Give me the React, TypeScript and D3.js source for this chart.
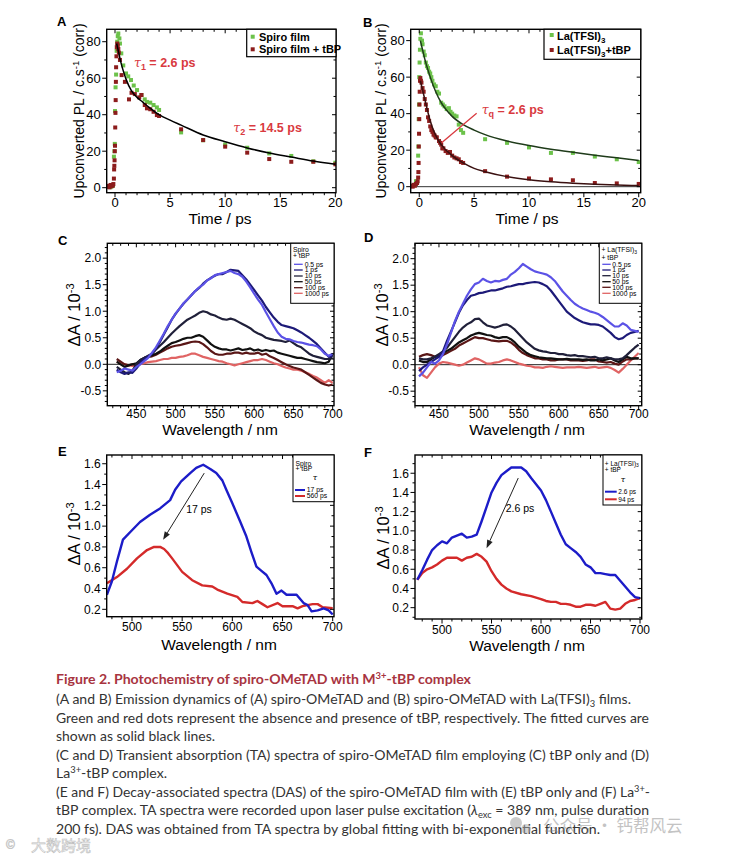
import React from "react";
import * as d3 from "d3";

type P = [number, number];
const FONT = "'Liberation Sans', Arial, Helvetica, sans-serif";
const CAP = "Lato, 'Open Sans', sans-serif";

// ---------- Panel A (time, PL) ----------
const aGreen: P[] = [[-0.6,0.5],[-0.4,0.3],[-0.2,1],[-0.1,17],[-0.05,20],[-0.02,24],[0,42],[0.05,55],[0.1,62],[0.15,75],[0.2,80],[0.25,83],[0.3,84.5],
[0.4,81.8],[0.45,79],[0.57,73.6],[0.75,67],[1.0,62.6],[1.2,61],[1.45,59],[1.7,56],[2.0,53.5],[2.4,50.8],[2.7,48.4],[2.9,47],[3.2,46.6],[3.5,45.3],[3.8,44],[4.0,42.6],
[6,30.3],[8,26],[10,23.7],[12,21.9],[14,18.8],[16,17.4],[18,14.5],[20,13.7]];
const aRed: P[] = [[-0.7,0.5],[-0.6,1],[-0.5,0.2],[-0.4,1.5],[-0.3,0.8],[-0.2,1.2],[-0.15,2],[-0.1,5],[-0.08,10],[-0.06,12],[-0.04,15],[-0.02,20],[0,23],[0.02,33],[0.04,41],[0.06,48],[0.08,58],[0.1,66],[0.13,72],[0.16,77],[0.2,79],
[0.25,78],[0.3,76],[0.35,74],[0.45,70],[0.6,61.7],[0.9,58],[1.27,48.4],[1.5,52],[1.8,51.3],[2.2,49.5],[2.4,50.8],[2.7,45.3],[2.9,43.5],[3.2,43],[3.5,41.6],[3.8,39.8],[4.0,39.3],
[6,32],[8,26.1],[10,22.5],[12,19.2],[14,15.7],[16,14.2],[18,14.2],[20,12.8]];
const aFit: P[] = [[0.15,79],[0.3,75],[0.5,69.5],[0.75,64],[1.0,59.5],[1.5,53],[2,49.5],[2.5,47],[3,44.5],[4,40],[5,37],[6,34.3],[8,28.9],[10,25.2],[12,21.8],[14,19],[16,16.8],[18,14.6],[20,12.8]];

// ---------- Panel B ----------
const bGreen: P[] = [[-0.6,0.5],[-0.4,1],[-0.3,3],[-0.2,2.5],[-0.1,17],[-0.08,22],[-0.05,37],[-0.02,45],[0,60],[0.03,68],[0.06,75],[0.1,81],[0.15,84],
[0.25,80],[0.3,78],[0.4,74],[0.5,72],[0.6,68],[0.7,66],[0.8,65],[0.9,63],[1.0,62],[1.1,60],[1.2,58],[1.35,56],[1.5,55],[1.65,52],[1.8,51],[2.0,46],[2.15,45],[2.3,44],[2.5,42.5],[2.7,43],[2.85,41],[3.0,40],[3.2,39],[3.4,38.5],[3.6,34],[3.8,31],[4.0,29.5],
[6,26],[8,24],[10,21.5],[12,18.5],[14,18.5],[16,16.5],[18,15],[20,13.5]];
const bRed: P[] = [[-0.7,0.5],[-0.6,0],[-0.5,1],[-0.4,0.5],[-0.3,1.5],[-0.2,2],[-0.15,3],[-0.1,5],[-0.08,8],[-0.06,13],[-0.04,22],[-0.02,29],[0,37],[0.02,45],[0.04,52],[0.07,58],[0.1,59.5],
[0.15,58],[0.2,57],[0.3,54],[0.4,52],[0.5,48],[0.6,45],[0.7,42],[0.8,38],[0.9,36],[1.0,33],[1.1,31],[1.2,30],[1.3,28.5],[1.4,28],[1.5,27],[1.6,27],[1.8,25],[1.9,24],[2.0,23],[2.1,21],[2.2,21],[2.4,19.5],[2.6,18.5],[2.8,19],[3.0,17],[3.2,16],[3.4,15.5],[3.6,15],[3.8,13.5],[4.0,13],
[6,8.5],[8,5.5],[10,4.5],[12,4],[14,3.5],[16,2],[18,1.8],[20,1.5]];
const bGreenFit: P[] = [[0.1,80],[0.3,75],[0.5,70],[1,60],[1.5,52],[2,46],[3,38.5],[4,34],[5,31],[6,28.5],[8,25],[10,22.5],[12,20.5],[14,18.8],[16,17.2],[18,15.8],[20,14.3]];
const bRedFit: P[] = [[0.1,58],[0.3,53],[0.5,48],[1,36],[1.5,28],[2,23],[3,17],[4,13],[5,10],[6,8.2],[8,5.5],[10,3.8],[12,2.7],[14,1.9],[16,1.3],[18,0.9],[20,0.6]];

// ---------- Panel C (TA spectra, tBP only) ----------
const wl = [425,430,435,440,445,450,455,460,465,470,475,480,485,490,495,500,505,510,515,520,525,530,535,540,545,550,555,560,565,570,575,580,585,590,595,600,605,610,615,620,625,630,635,640,645,650,655,660,665,670,675,680,685,690,695,700];
const c05 = [-0.15,-0.12,-0.08,-0.1,-0.12,-0.05,0,0.06,0.12,0.22,0.32,0.45,0.58,0.72,0.84,0.96,1.05,1.15,1.22,1.3,1.38,1.45,1.5,1.58,1.62,1.68,1.7,1.72,1.74,1.76,1.72,1.7,1.65,1.56,1.45,1.33,1.22,1.12,0.98,0.85,0.72,0.6,0.52,0.48,0.47,0.44,0.42,0.41,0.39,0.37,0.36,0.34,0.28,0.2,0.16,0.2];
const c1 = [-0.1,-0.15,-0.18,-0.15,-0.16,-0.08,0.02,0.1,0.15,0.2,0.3,0.42,0.56,0.7,0.84,0.95,1.05,1.14,1.22,1.3,1.38,1.44,1.52,1.58,1.63,1.67,1.7,1.7,1.74,1.78,1.77,1.76,1.68,1.6,1.5,1.4,1.3,1.2,1.08,0.98,0.88,0.8,0.74,0.72,0.7,0.68,0.64,0.6,0.55,0.5,0.44,0.38,0.3,0.22,0.14,0.16];
const c10 = [-0.05,-0.1,-0.15,-0.18,-0.12,0,0.08,0.12,0.16,0.2,0.28,0.35,0.42,0.5,0.58,0.65,0.72,0.78,0.84,0.88,0.92,0.97,1.0,0.98,0.94,0.92,0.88,0.85,0.84,0.86,0.84,0.8,0.76,0.72,0.68,0.62,0.58,0.55,0.5,0.48,0.46,0.45,0.44,0.42,0.45,0.4,0.35,0.32,0.26,0.2,0.16,0.14,0.12,0.1,0.1,0.12];
const c50 = [0.05,0,-0.05,-0.02,0,0.02,0.08,0.12,0.15,0.17,0.2,0.24,0.3,0.35,0.4,0.42,0.45,0.48,0.5,0.5,0.53,0.55,0.52,0.45,0.38,0.33,0.3,0.28,0.28,0.26,0.28,0.3,0.27,0.28,0.3,0.26,0.28,0.25,0.27,0.25,0.26,0.22,0.2,0.18,0.16,0.14,0.12,0.12,0.1,0.08,0.06,0.04,0.03,0.02,0.05,0.2];
const c100 = [0.1,0.05,0,-0.02,0,-0.02,0.05,0.12,0.14,0.15,0.18,0.22,0.26,0.3,0.33,0.35,0.36,0.38,0.4,0.42,0.43,0.42,0.38,0.32,0.25,0.2,0.18,0.18,0.2,0.2,0.22,0.22,0.2,0.22,0.2,0.2,0.22,0.18,0.2,0.15,0.12,0.08,0.04,0,-0.03,-0.06,-0.08,-0.1,-0.15,-0.2,-0.25,-0.3,-0.35,-0.38,-0.4,-0.38];
const c1000 = [0.05,0.02,0,-0.02,-0.03,-0.02,0,0.02,0.04,0.05,0.06,0.08,0.1,0.1,0.12,0.12,0.14,0.15,0.17,0.2,0.2,0.17,0.14,0.12,0.1,0.08,0.06,0.05,0.02,0,-0.02,0,0.02,0.04,0.06,0.08,0.08,0.1,0.08,0.05,0.02,0,-0.03,-0.06,-0.08,-0.1,-0.1,-0.12,-0.15,-0.18,-0.22,-0.25,-0.3,-0.35,-0.3,-0.35];

// ---------- Panel D (TA spectra, La3+-tBP) ----------
const d05 = [-0.22,-0.15,-0.05,0.05,0.02,0.08,0.2,0.38,0.6,0.82,1.0,1.15,1.3,1.42,1.52,1.55,1.62,1.58,1.55,1.58,1.57,1.6,1.62,1.7,1.75,1.82,1.9,1.85,1.8,1.76,1.74,1.72,1.7,1.65,1.58,1.48,1.38,1.3,1.22,1.15,1.1,1.06,1.03,1.0,0.98,0.95,0.9,0.84,0.78,0.72,0.72,0.78,0.74,0.66,0.64,0.62];
const d1 = [-0.12,-0.05,0,0.05,0.1,0.15,0.25,0.45,0.62,0.8,0.98,1.12,1.22,1.3,1.32,1.35,1.36,1.38,1.4,1.4,1.42,1.44,1.47,1.48,1.5,1.52,1.52,1.54,1.55,1.56,1.55,1.52,1.48,1.4,1.3,1.2,1.1,1.0,0.94,0.88,0.84,0.8,0.78,0.76,0.76,0.75,0.72,0.66,0.6,0.52,0.48,0.5,0.56,0.6,0.62,0.64];
const d10 = [0.12,0.1,0.1,0.12,0.15,0.2,0.25,0.32,0.42,0.52,0.62,0.7,0.76,0.8,0.86,0.87,0.8,0.74,0.72,0.7,0.72,0.75,0.76,0.72,0.66,0.58,0.5,0.42,0.36,0.3,0.27,0.25,0.24,0.22,0.22,0.2,0.2,0.18,0.17,0.18,0.16,0.16,0.15,0.14,0.15,0.12,0.12,0.14,0.12,0.1,0.1,0.12,0.18,0.25,0.32,0.38];
const d50 = [0.08,0.05,0.05,0.1,0.15,0.18,0.22,0.26,0.3,0.36,0.42,0.46,0.5,0.55,0.58,0.6,0.58,0.56,0.55,0.52,0.5,0.52,0.52,0.48,0.42,0.34,0.28,0.22,0.18,0.16,0.14,0.13,0.12,0.12,0.11,0.1,0.1,0.11,0.1,0.1,0.1,0.09,0.1,0.08,0.08,0.1,0.08,0.1,0.12,0.08,0.05,0.1,0.15,0.12,0.12,0.12];
const d100 = [0.15,0.18,0.2,0.18,0.15,0.15,0.18,0.22,0.26,0.3,0.36,0.4,0.44,0.48,0.52,0.5,0.5,0.48,0.46,0.45,0.44,0.45,0.45,0.42,0.36,0.28,0.22,0.18,0.15,0.12,0.12,0.1,0.1,0.08,0.08,0.1,0.1,0.1,0.08,0.08,0.08,0.07,0.08,0.1,0.1,0.06,0.05,0.04,0.05,0.02,0,0.06,0.1,0.1,0.12,0.12];
const d1000 = [-0.05,-0.2,-0.25,-0.15,-0.05,0.02,0.05,0.04,0.02,0,-0.02,0,0.04,0.08,0.12,0.1,0.06,0.02,0.02,0.04,0.05,0.08,0.1,0.08,0.05,0.02,0,-0.02,-0.03,-0.05,-0.05,-0.06,-0.04,-0.03,-0.04,-0.05,-0.06,-0.05,-0.05,-0.05,-0.04,-0.05,-0.06,-0.05,-0.04,-0.06,-0.05,-0.04,-0.06,-0.1,-0.15,-0.08,0,0.08,0.15,0.22];

// ---------- Panel E (DAS, tBP only) ----------
const eBlue: P[] = [[475,0.34],[480,0.47],[485,0.66],[491,0.87],[500,0.96],[508,1.04],[518,1.11],[528,1.17],[538,1.25],[543,1.35],[549,1.43],[558,1.51],[564,1.56],[571,1.59],[578,1.55],[584,1.51],[590,1.44],[594,1.35],[600,1.22],[608,1.04],[614,0.9],[619,0.75],[624,0.61],[629,0.57],[634,0.53],[639,0.45],[644,0.35],[649,0.38],[654,0.34],[659,0.34],[664,0.34],[671,0.26],[675,0.24],[679,0.18],[685,0.19],[691,0.21],[696,0.19],[700,0.15]];
const eRed: P[] = [[475,0.45],[485,0.51],[495,0.59],[505,0.69],[515,0.77],[522,0.8],[528,0.8],[532,0.78],[536,0.74],[540,0.69],[550,0.56],[560,0.48],[570,0.43],[580,0.42],[585,0.39],[595,0.35],[605,0.32],[610,0.27],[620,0.26],[625,0.28],[630,0.25],[635,0.22],[645,0.26],[650,0.23],[660,0.23],[665,0.21],[670,0.23],[680,0.25],[685,0.25],[690,0.22],[700,0.21]];

// ---------- Panel F (DAS, La3+-tBP) ----------
const fBlue: P[] = [[475,0.49],[480,0.59],[485,0.7],[490,0.8],[495,0.85],[500,0.89],[505,0.87],[510,0.93],[515,0.95],[520,0.97],[525,0.93],[530,0.94],[535,0.96],[540,1.1],[545,1.25],[550,1.4],[555,1.5],[560,1.58],[565,1.62],[570,1.66],[575,1.66],[580,1.66],[585,1.62],[590,1.55],[600,1.42],[605,1.32],[610,1.2],[615,1.08],[620,0.96],[625,0.86],[630,0.82],[635,0.78],[640,0.73],[645,0.65],[650,0.62],[655,0.56],[660,0.56],[665,0.55],[670,0.54],[675,0.54],[680,0.48],[685,0.42],[690,0.36],[695,0.31],[700,0.3]];
const fRed: P[] = [[475,0.49],[480,0.56],[485,0.6],[490,0.62],[495,0.65],[500,0.69],[505,0.72],[510,0.72],[515,0.72],[520,0.69],[525,0.72],[530,0.73],[535,0.76],[540,0.73],[545,0.68],[550,0.58],[555,0.5],[560,0.44],[565,0.4],[570,0.37],[580,0.34],[590,0.32],[600,0.29],[605,0.27],[610,0.26],[615,0.26],[620,0.24],[625,0.24],[630,0.23],[635,0.21],[640,0.21],[645,0.23],[650,0.23],[655,0.22],[660,0.24],[665,0.26],[670,0.19],[675,0.18],[680,0.19],[685,0.24],[690,0.27],[695,0.28],[700,0.3]];

const cLabels = ["0.5 ps","1 ps","10 ps","50 ps","100 ps","1000 ps"];
const taColors = ["#5b52e6","#1d1a78","#20203a","#101010","#5a1616","#e06464"];

const pair = (ys: number[]): P[] => ys.map((v, i) => [wl[i], v]);

function range(a: number, b: number, s: number) {
  const o: number[] = [];
  for (let k = 0; a + k * s <= b + 1e-9; k++) o.push(+(a + k * s).toFixed(6));
  return o;
}

function Axes(p: {
  xs: d3.ScaleLinear<number, number>; ys: d3.ScaleLinear<number, number>;
  xMajor: number[]; xMinor: number[]; yMajor: number[]; yMinor: number[];
  xFmt: (v: number) => string; yFmt: (v: number) => string; fs: number; xLabBase: number;
}) {
  const [l, r] = p.xs.range();
  const [b, t] = p.ys.range();
  const near = (arr: number[], v: number) => arr.some((m) => Math.abs(m - v) < 1e-6);
  const els: React.ReactNode[] = [];
  const st = { stroke: "#000", strokeWidth: 1 };
  p.xMinor.filter((v) => !near(p.xMajor, v)).forEach((v, i) => {
    const x = p.xs(v);
    els.push(<line key={"xm" + i} x1={x} x2={x} y1={b} y2={b + 2.5} {...st} />);
    els.push(<line key={"xmt" + i} x1={x} x2={x} y1={t} y2={t + 2.5} {...st} />);
  });
  p.xMajor.forEach((v, i) => {
    const x = p.xs(v);
    els.push(<line key={"xM" + i} x1={x} x2={x} y1={b} y2={b + 4.5} {...st} />);
    els.push(<line key={"xMt" + i} x1={x} x2={x} y1={t} y2={t + 4} {...st} />);
    els.push(<text key={"xl" + i} x={x} y={p.xLabBase} textAnchor="middle" fontSize={p.fs} fontFamily={FONT}>{p.xFmt(v)}</text>);
  });
  p.yMinor.filter((v) => !near(p.yMajor, v)).forEach((v, i) => {
    const y = p.ys(v);
    els.push(<line key={"ym" + i} x1={l - 2.5} x2={l} y1={y} y2={y} {...st} />);
    els.push(<line key={"ymr" + i} x1={r - 2.5} x2={r} y1={y} y2={y} {...st} />);
  });
  p.yMajor.forEach((v, i) => {
    const y = p.ys(v);
    els.push(<line key={"yM" + i} x1={l - 4.5} x2={l} y1={y} y2={y} {...st} />);
    els.push(<line key={"yMr" + i} x1={r - 4} x2={r} y1={y} y2={y} {...st} />);
    els.push(<text key={"yl" + i} x={l - 6} y={y + p.fs * 0.36} textAnchor="end" fontSize={p.fs} fontFamily={FONT}>{p.yFmt(v)}</text>);
  });
  els.push(<rect key="frame" x={l} y={t} width={r - l} height={b - t} fill="none" stroke="#000" strokeWidth={1.4} />);
  return <g>{els}</g>;
}

const f1 = (v: number) => v.toFixed(1);
const f0 = (v: number) => String(v);

function YLabel({ x, y, fs, children }: { x: number; y: number; fs: number; children: React.ReactNode }) {
  return (
    <text transform={`translate(${x},${y}) rotate(-90)`} textAnchor="middle" fontSize={fs} fontFamily={FONT}>{children}</text>
  );
}

function Arrow({ x1, y1, x2, y2 }: { x1: number; y1: number; x2: number; y2: number }) {
  const a = Math.atan2(y2 - y1, x2 - x1);
  const L = 8, Wd = 3;
  const bx = x2 - L * Math.cos(a), by = y2 - L * Math.sin(a);
  const px = -Math.sin(a) * Wd, py = Math.cos(a) * Wd;
  return (
    <g>
      <line x1={x1} y1={y1} x2={bx} y2={by} stroke="#222" strokeWidth={1} />
      <polygon points={`${x2},${y2} ${bx + px},${by + py} ${bx - px},${by - py}`} fill="#222" />
    </g>
  );
}

export default function App() {
  const axS = d3.scaleLinear().domain([-0.754, 20.06]).range([106.7, 336]);
  const ayS = d3.scaleLinear().domain([-2.74, 86.8]).range([192.7, 29.3]);
  const bxS = d3.scaleLinear().domain([-0.78, 20.18]).range([410.7, 640.7]);
  const byS = d3.scaleLinear().domain([-3.3, 86.2]).range([192.7, 29.3]);
  const cxS = d3.scaleLinear().domain([413, 701.7]).range([107.3, 334]);
  const cyS = d3.scaleLinear().domain([-0.78, 2.28]).range([405.7, 243.3]);
  const dxS = d3.scaleLinear().domain([420, 703.8]).range([415, 641.7]);
  const dyS = d3.scaleLinear().domain([-0.774, 2.29]).range([405.7, 243.3]);
  const exS = d3.scaleLinear().domain([474.8, 701.3]).range([106.7, 334]);
  const eyS = d3.scaleLinear().domain([0.129, 1.684]).range([616.7, 455]);
  const fxS = d3.scaleLinear().domain([472.7, 701.7]).range([415, 641.7]);
  const fyS = d3.scaleLinear().domain([0.082, 1.79]).range([619, 455]);

  const lineOf = (xs: any, ys: any, curve = d3.curveLinear) =>
    d3.line<P>().x((d) => xs(d[0])).y((d) => ys(d[1])).curve(curve);

  const squares = (data: P[], xs: any, ys: any, color: string, key: string) =>
    data.map((d, i) => (
      <rect key={key + i} x={xs(d[0]) - 2} y={ys(d[1]) - 2} width={4} height={4} fill={color} />
    ));

  const green = "#6cc24a";
  const dred = "#8c1c1c";
  const red = "#d93a3f";

  const cSeries = [c05, c1, c10, c50, c100, c1000];
  const dSeries = [d05, d1, d10, d50, d100, d1000];

  return (
    <svg width={731} height={855} style={{ position: "absolute", left: 0, top: 0, background: "#fff" }} xmlns="http://www.w3.org/2000/svg">
      <rect x={0} y={0} width={731} height={855} fill="#fff" />
      <defs>
        <clipPath id="clA"><rect x={106.7} y={29.3} width={229.3} height={163.4} /></clipPath>
        <clipPath id="clB"><rect x={410.7} y={29.3} width={230} height={163.4} /></clipPath>
        <clipPath id="clC"><rect x={107.3} y={243.3} width={226.7} height={162.4} /></clipPath>
        <clipPath id="clD"><rect x={415} y={243.3} width={226.7} height={162.4} /></clipPath>
        <clipPath id="clE"><rect x={106.7} y={455} width={227.3} height={161.7} /></clipPath>
        <clipPath id="clF"><rect x={415} y={455} width={226.7} height={164} /></clipPath>
      </defs>

      <g fontFamily={FONT} fontWeight="bold" fontSize={13}>
        <text x={57} y={26}>A</text>
        <text x={363} y={26.5}>B</text>
        <text x={58} y={245}>C</text>
        <text x={364} y={242}>D</text>
        <text x={58} y={456}>E</text>
        <text x={364} y={457}>F</text>
      </g>

      {/* ===== Panel A ===== */}
      <g clipPath="url(#clA)">
        {squares(aGreen, axS, ayS, green, "ag")}
        {squares(aRed, axS, ayS, dred, "ar")}
        <path d={lineOf(axS, ayS, d3.curveMonotoneX)(aFit) || ""} fill="none" stroke="#000" strokeWidth={1.5} />
      </g>
      <Axes xs={axS} ys={ayS} xMajor={[0, 5, 10, 15, 20]} xMinor={range(0, 20, 1)} yMajor={[0, 20, 40, 60, 80]} yMinor={[10, 30, 50, 70]} xFmt={f0} yFmt={f0} fs={13} xLabBase={206.5} />
      <text x={axS(1.72)} y={ayS(66.1)} fill={red} fontFamily={FONT} fontWeight="bold" fontSize={12.5}>
        <tspan fontStyle="italic" fontFamily="'DejaVu Serif', serif" fontWeight="normal">τ</tspan><tspan dy={3} fontSize={9}>1</tspan><tspan dy={-3}> = 2.6 ps</tspan>
      </text>
      <text x={axS(10.74)} y={ayS(30.7)} fill={red} fontFamily={FONT} fontWeight="bold" fontSize={12.5}>
        <tspan fontStyle="italic" fontFamily="'DejaVu Serif', serif" fontWeight="normal">τ</tspan><tspan dy={3} fontSize={9}>2</tspan><tspan dy={-3}> = 14.5 ps</tspan>
      </text>
      <rect x={246.7} y={29.3} width={89.3} height={27.4} fill="#fff" stroke="#000" strokeWidth={1.2} />
      <rect x={250.7} y={34.7} width={4} height={4} fill={green} />
      <text x={259} y={40.8} fontFamily={FONT} fontWeight="bold" fontSize={11}>Spiro film</text>
      <rect x={250.7} y={47.3} width={4} height={4} fill={dred} />
      <text x={259} y={53.3} fontFamily={FONT} fontWeight="bold" fontSize={11}>Spiro film + tBP</text>
      <YLabel x={84} y={111} fs={14}>
        Upconverted PL / c.s<tspan dy={-5} fontSize={9.5}>-1</tspan><tspan dy={5}> (corr)</tspan>
      </YLabel>
      <text x={220} y={224} textAnchor="middle" fontFamily={FONT} fontSize={15.5}>Time / ps</text>

      {/* ===== Panel B ===== */}
      <g clipPath="url(#clB)">
        <line x1={bxS(-0.78)} x2={bxS(20.18)} y1={byS(0)} y2={byS(0)} stroke="#333" strokeWidth={1} />
        {squares(bGreen, bxS, byS, green, "bg")}
        {squares(bRed, bxS, byS, dred, "br")}
        <path d={lineOf(bxS, byS, d3.curveMonotoneX)(bGreenFit) || ""} fill="none" stroke="#1f3b1a" strokeWidth={1.5} />
        <path d={lineOf(bxS, byS, d3.curveMonotoneX)(bRedFit) || ""} fill="none" stroke="#3a1010" strokeWidth={1.5} />
      </g>
      <Axes xs={bxS} ys={byS} xMajor={[0, 5, 10, 15, 20]} xMinor={range(0, 20, 1)} yMajor={[0, 20, 40, 60, 80]} yMinor={[10, 30, 50, 70]} xFmt={f0} yFmt={f0} fs={13} xLabBase={206.5} />
      <line x1={bxS(2.04)} y1={byS(24.1)} x2={bxS(5.23)} y2={byS(40.2)} stroke={red} strokeWidth={1.3} />
      <text x={bxS(5.69)} y={byS(39.8)} fill={red} fontFamily={FONT} fontWeight="bold" fontSize={12.5}>
        <tspan fontStyle="italic" fontFamily="'DejaVu Serif', serif" fontWeight="normal">τ</tspan><tspan dy={3} fontSize={9}>q</tspan><tspan dy={-3}> = 2.6 ps</tspan>
      </text>
      <rect x={544} y={29.3} width={96.7} height={30} fill="#fff" stroke="#000" strokeWidth={1.2} />
      <rect x={549.7} y={33} width={4} height={4} fill={green} />
      <text x={557} y={39.5} fontFamily={FONT} fontWeight="bold" fontSize={11}>
        La(TFSI)<tspan dy={3} fontSize={8}>3</tspan>
      </text>
      <rect x={549.7} y={48} width={4} height={4} fill={dred} />
      <text x={557} y={54.3} fontFamily={FONT} fontWeight="bold" fontSize={11}>
        La(TFSI)<tspan dy={3} fontSize={8}>3</tspan><tspan dy={-3}>+tBP</tspan>
      </text>
      <YLabel x={386} y={111} fs={14}>
        Upconverted PL / c.s<tspan dy={-5} fontSize={9.5}>-1</tspan><tspan dy={5}> (corr)</tspan>
      </YLabel>
      <text x={527} y={224} textAnchor="middle" fontFamily={FONT} fontSize={15.5}>Time / ps</text>

      {/* ===== Panel C ===== */}
      <g clipPath="url(#clC)">
        <line x1={cxS(413)} x2={cxS(701.7)} y1={cyS(0)} y2={cyS(0)} stroke="#222" strokeWidth={1} />
        {cSeries.map((s, i) => (
          <path key={"c" + i} d={lineOf(cxS, cyS)(pair(s)) || ""} fill="none" stroke={taColors[i]} strokeWidth={2.2} strokeLinejoin="round" />
        )).reverse()}
      </g>
      <Axes xs={cxS} ys={cyS} xMajor={range(450, 700, 50)} xMinor={range(420, 700, 10)} yMajor={[-0.5, 0, 0.5, 1, 1.5, 2]} yMinor={range(-0.7, 2.2, 0.1)} xFmt={f0} yFmt={f1} fs={12} xLabBase={418} />
      <rect x={290.7} y={243.3} width={43.3} height={60} fill="#fff" stroke="#000" strokeWidth={1} />
      <g fontFamily={FONT} fontSize={6.8}>
        <text x={293} y={252.3}>Spiro</text>
        <text x={293} y={258}>+ tBP</text>
        {cLabels.map((lab, i) => {
          const yy = [266.6, 272.3, 278.3, 284, 290, 295.6][i];
          return (
            <g key={"cl" + i}>
              <line x1={294} x2={302.7} y1={yy - 2.3} y2={yy - 2.3} stroke={taColors[i]} strokeWidth={1.3} />
              <text x={304.7} y={yy}>{lab}</text>
            </g>
          );
        })}
      </g>
      <YLabel x={80} y={315} fs={16.5}>
        ΔA / 10<tspan dy={-6} fontSize={11}>-3</tspan>
      </YLabel>
      <text x={220} y={435} textAnchor="middle" fontFamily={FONT} fontSize={15.5}>Wavelength / nm</text>

      {/* ===== Panel D ===== */}
      <g clipPath="url(#clD)">
        <line x1={dxS(420)} x2={dxS(703.8)} y1={dyS(0)} y2={dyS(0)} stroke="#222" strokeWidth={1} />
        {dSeries.map((s, i) => (
          <path key={"d" + i} d={lineOf(dxS, dyS)(pair(s)) || ""} fill="none" stroke={taColors[i]} strokeWidth={2.2} strokeLinejoin="round" />
        )).reverse()}
      </g>
      <Axes xs={dxS} ys={dyS} xMajor={range(450, 700, 50)} xMinor={range(420, 700, 10)} yMajor={[-0.5, 0, 0.5, 1, 1.5, 2]} yMinor={range(-0.7, 2.2, 0.1)} xFmt={f0} yFmt={f1} fs={12} xLabBase={418} />
      <rect x={599.3} y={243.3} width={42.4} height={60} fill="#fff" stroke="#000" strokeWidth={1} />
      <g fontFamily={FONT} fontSize={6.8}>
        <text x={601.5} y={252.3}>+ La(TFSI)<tspan dy={1.8} fontSize={5}>3</tspan></text>
        <text x={601.5} y={260}>+ tBP</text>
        {cLabels.map((lab, i) => {
          const yy = [266.6, 272.3, 278, 284, 289.6, 295.6][i];
          return (
            <g key={"dl" + i}>
              <line x1={602.3} x2={610.7} y1={yy - 2.3} y2={yy - 2.3} stroke={taColors[i]} strokeWidth={1.3} />
              <text x={612.3} y={yy}>{lab}</text>
            </g>
          );
        })}
      </g>
      <YLabel x={388} y={315} fs={16.5}>
        ΔA / 10<tspan dy={-6} fontSize={11}>-3</tspan>
      </YLabel>
      <text x={527} y={435} textAnchor="middle" fontFamily={FONT} fontSize={15.5}>Wavelength / nm</text>

      {/* ===== Panel E ===== */}
      <g clipPath="url(#clE)">
        <path d={lineOf(exS, eyS)(eRed) || ""} fill="none" stroke="#d42a2a" strokeWidth={2.4} strokeLinejoin="round" />
        <path d={lineOf(exS, eyS)(eBlue) || ""} fill="none" stroke="#1c1cc8" strokeWidth={2.4} strokeLinejoin="round" />
      </g>
      <Axes xs={exS} ys={eyS} xMajor={range(500, 700, 50)} xMinor={range(480, 700, 10)} yMajor={range(0.2, 1.6, 0.2)} yMinor={range(0.2, 1.6, 0.1)} xFmt={f0} yFmt={f1} fs={12} xLabBase={631} />
      <Arrow x1={exS(572)} y1={eyS(1.51)} x2={exS(531)} y2={eyS(0.87)} />
      <text x={exS(566.8)} y={eyS(1.13)} textAnchor="middle" fontFamily={FONT} fontSize={10.5}>17 ps</text>
      <rect x={293} y={455} width={41} height={46.7} fill="#fff" stroke="#000" strokeWidth={1} />
      <g fontFamily={FONT} fontSize={6.8}>
        <text x={295.5} y={465.5}>Spiro</text>
        <text x={295.5} y={470.8}>+ tBP</text>
        <text x={315} y={479.5} textAnchor="middle" fontStyle="italic" fontFamily="'DejaVu Serif', serif" fontSize={8}>τ</text>
        <line x1={295} x2={305} y1={490} y2={490} stroke="#1c1cc8" strokeWidth={2} />
        <text x={306.7} y={492.3}>17 ps</text>
        <line x1={295} x2={305} y1={496} y2={496} stroke="#d42a2a" strokeWidth={2} />
        <text x={306.7} y={498.3}>560 ps</text>
      </g>
      <YLabel x={80} y={534} fs={16.5}>
        ΔA / 10<tspan dy={-6} fontSize={11}>-3</tspan>
      </YLabel>
      <text x={219} y={650} textAnchor="middle" fontFamily={FONT} fontSize={15.5}>Wavelength / nm</text>

      {/* ===== Panel F ===== */}
      <g clipPath="url(#clF)">
        <path d={lineOf(fxS, fyS)(fRed) || ""} fill="none" stroke="#d42a2a" strokeWidth={2.4} strokeLinejoin="round" />
        <path d={lineOf(fxS, fyS)(fBlue) || ""} fill="none" stroke="#1c1cc8" strokeWidth={2.4} strokeLinejoin="round" />
      </g>
      <Axes xs={fxS} ys={fyS} xMajor={range(500, 700, 50)} xMinor={range(480, 700, 10)} yMajor={range(0.2, 1.6, 0.2)} yMinor={range(0.1, 1.7, 0.1)} xFmt={f0} yFmt={f1} fs={12} xLabBase={633.5} />
      <Arrow x1={fxS(577)} y1={fyS(1.55)} x2={fxS(545)} y2={fyS(0.82)} />
      <text x={fxS(578.8)} y={fyS(1.2)} textAnchor="middle" fontFamily={FONT} fontSize={10.5}>2.6 ps</text>
      <rect x={603} y={455} width={38.7} height={50} fill="#fff" stroke="#000" strokeWidth={1} />
      <g fontFamily={FONT} fontSize={6.5}>
        <text x={604.8} y={465.5}>+ La(TFSI)<tspan dy={1.8} fontSize={5}>3</tspan></text>
        <text x={604.8} y={472.3}>+ tBP</text>
        <text x={623} y={482} textAnchor="middle" fontStyle="italic" fontFamily="'DejaVu Serif', serif" fontSize={8}>τ</text>
        <line x1={605} x2={616.7} y1={491.7} y2={491.7} stroke="#1c1cc8" strokeWidth={2} />
        <text x={618.3} y={494}>2.6 ps</text>
        <line x1={605} x2={616.7} y1={499.3} y2={499.3} stroke="#d42a2a" strokeWidth={2} />
        <text x={618.3} y={501.6}>94 ps</text>
      </g>
      <YLabel x={389} y={538} fs={16.5}>
        ΔA / 10<tspan dy={-6} fontSize={11}>-3</tspan>
      </YLabel>
      <text x={527} y={651} textAnchor="middle" fontFamily={FONT} fontSize={15.5}>Wavelength / nm</text>

      {/* ===== Caption ===== */}
      <g fontFamily={CAP} fontSize={13.5} fill="#333">
        <text x={56} y={684} fill="#a8343f" fontWeight="bold" textLength={415} lengthAdjust="spacingAndGlyphs">
          Figure 2.  Photochemistry of spiro-OMeTAD with M<tspan dy={-5} fontSize={9}>3+</tspan><tspan dy={5}>-tBP complex</tspan>
        </text>
        <text x={56} y={704} textLength={575} lengthAdjust="spacingAndGlyphs">
          (A and B) Emission dynamics of (A) spiro-OMeTAD and (B) spiro-OMeTAD with La(TFSI)<tspan dy={3} fontSize={9}>3</tspan><tspan dy={-3}> films.</tspan>
        </text>
        <text x={56} y={722.5} textLength={593} lengthAdjust="spacingAndGlyphs">
          Green and red dots represent the absence and presence of tBP, respectively. The fitted curves are
        </text>
        <text x={56} y={740.5} textLength={159} lengthAdjust="spacingAndGlyphs">shown as solid black lines.</text>
        <text x={56} y={759.5} textLength={593} lengthAdjust="spacingAndGlyphs">
          (C and D) Transient absorption (TA) spectra of spiro-OMeTAD film employing (C) tBP only and (D)
        </text>
        <text x={56} y={778} textLength={111} lengthAdjust="spacingAndGlyphs">
          La<tspan dy={-5} fontSize={9}>3+</tspan><tspan dy={5}>-tBP complex.</tspan>
        </text>
        <text x={56} y={797} textLength={594} lengthAdjust="spacingAndGlyphs">
          (E and F) Decay-associated spectra (DAS) of the spiro-OMeTAD film with (E) tBP only and (F) La<tspan dy={-5} fontSize={9}>3+</tspan><tspan dy={5}>-</tspan>
        </text>
        <text x={56} y={815} textLength={593} lengthAdjust="spacingAndGlyphs">
          tBP complex. TA spectra were recorded upon laser pulse excitation (<tspan fontStyle="italic">λ</tspan><tspan dy={3} fontSize={9}>exc</tspan><tspan dy={-3}> = 389 nm, pulse duration</tspan>
        </text>
        <text x={56} y={833.5} textLength={544} lengthAdjust="spacingAndGlyphs">
          200 fs). DAS was obtained from TA spectra by global fitting with bi-exponential function.
        </text>
      </g>

      {/* watermarks */}
      <g opacity={0.5}>
        <circle cx={516} cy={823} r={6} fill="#999" />
        <circle cx={526} cy={829} r={5} fill="#aaa" />
        <text x={543} y={832} fontFamily="'Noto Sans CJK SC', sans-serif" fontSize={16.5} fill="#888">公众号 · 钙帮风云</text>
      </g>
      <g opacity={0.85}>
        <text x={31} y={851} fontFamily="'Noto Sans CJK SC', sans-serif" fontSize={15} fill="#fff" stroke="#b5b5b5" strokeWidth={0.6}>大数跨境</text>
        <text x={6} y={849} fontFamily={FONT} fontSize={12} fill="#fff" stroke="#bbb" strokeWidth={0.6}>©</text>
      </g>
    </svg>
  );
}
